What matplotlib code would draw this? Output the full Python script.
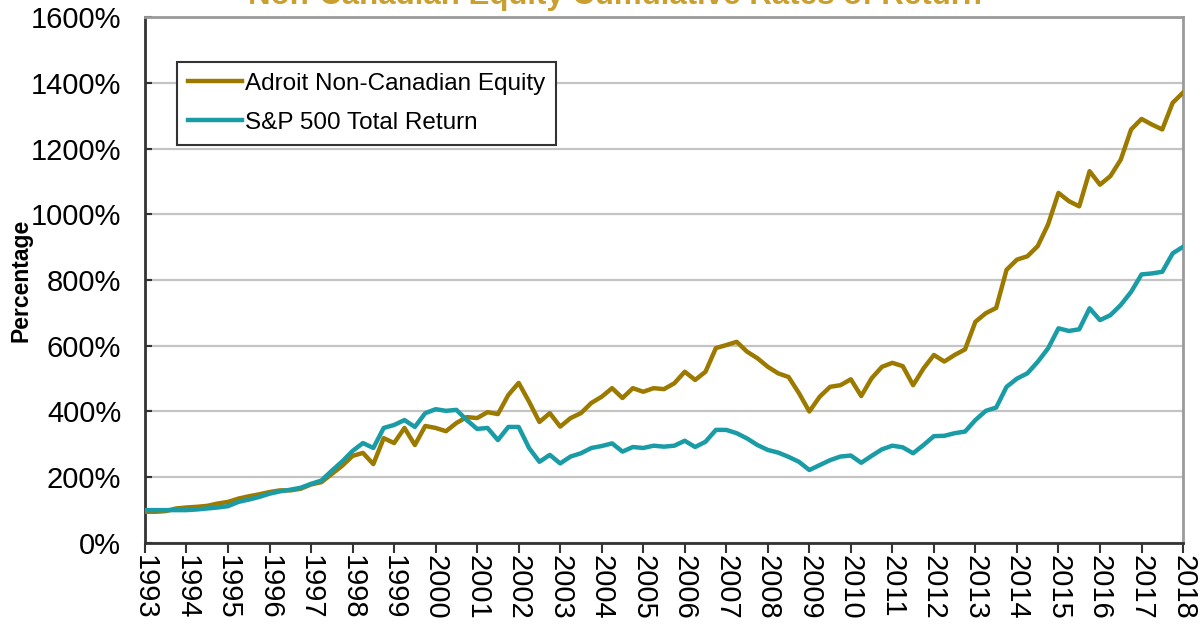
import matplotlib
matplotlib.use("Agg")
import matplotlib.pyplot as plt
import numpy as np

plt.rcParams['font.family'] = ['Liberation Sans', 'DejaVu Sans']

# quarterly cumulative returns (%), 1993 Q1 .. 2018 Q1
adroit = [95, 95, 97, 105,
          108, 110, 113, 120,
          125, 135, 142, 148,
          155, 160, 160, 165,
          178, 185, 210, 235,
          265, 274, 240, 319,
          304, 350, 298, 356,
          350, 340, 365, 383,
          380, 398, 392, 450,
          487, 430, 368, 395,
          354, 380, 395, 426,
          445, 471, 441, 471,
          460, 471, 468, 486,
          521, 496, 521, 593,
          602, 612, 582, 562,
          536, 516, 505, 456,
          400, 445, 475, 480,
          498, 447, 501, 536,
          548, 538, 480, 531,
          572, 552, 572, 589,
          673, 699, 715, 831,
          862, 872, 903, 969,
          1065, 1040, 1024, 1131,
          1090, 1116, 1166, 1258,
          1290, 1273, 1258, 1339,
          1370]
sp500 = [100, 100, 100, 100,
         100, 102, 105, 108,
         112, 125, 132, 140,
         150, 157, 162, 168,
         180, 190, 220, 248,
         280, 304, 289, 350,
         359, 374, 353, 395,
         407, 402, 405, 374,
         347, 350, 313, 353,
         353, 289, 247, 268,
         242, 263, 273, 289,
         295, 303, 278, 292,
         289, 296, 293, 296,
         311, 292, 308, 344,
         344, 334, 318, 298,
         283, 275, 262, 247,
         222, 237, 252, 263,
         266, 244, 265, 285,
         296, 291, 273, 298,
         325, 326, 334, 339,
         374, 402, 412, 475,
         500, 516, 551, 592,
         653, 645, 650, 714,
         678, 693, 724, 764,
         817, 820, 825, 881,
         901]
years = list(range(1993, 2019))
x = 1993 + 0.25 * np.arange(len(adroit))

gold = '#9C7A00'
teal = '#1A9CA6'

fig = plt.figure(figsize=(12.03, 6.35), dpi=100)
ax = fig.add_axes([0.1205, 0.1449, 0.8629, 0.8283])

ax.plot(x, adroit, color=gold, lw=3.2, label="Adroit Non-Canadian Equity", zorder=3)
ax.plot(x, sp500, color=teal, lw=3.2, label="S&P 500 Total Return", zorder=3)

ax.set_xlim(1993, 2018)
ax.set_ylim(0, 1600)
ax.set_xticks(years)
ax.set_xticklabels([str(y) for y in years], rotation=-90, fontsize=21)
ax.set_yticks(range(0, 1601, 200))
ax.set_yticklabels([f"{v}%" for v in range(0, 1601, 200)], fontsize=21)
ax.tick_params(axis='x', direction='out', length=7, width=1.5, pad=2, color='#333333')
ax.tick_params(axis='y', direction='in', length=5, width=1.5, pad=17, color='#333333')

ax.grid(axis='y', color='#c4c4c4', lw=1.6)
ax.set_axisbelow(True)
for s in ['left', 'bottom']:
    ax.spines[s].set_color('#333333')
    ax.spines[s].set_linewidth(2)
for s in ['top', 'right']:
    ax.spines[s].set_color('#9a9a9a')
    ax.spines[s].set_linewidth(2)

ax.set_ylabel("Percentage", fontsize=16.5, fontweight='bold')
ax.yaxis.set_label_coords(-0.108, 0.5)

leg = ax.legend(loc='upper left', bbox_to_anchor=(0.031, 0.915), fontsize=17.5,
                frameon=True, fancybox=False, edgecolor='#333333', framealpha=1,
                handlelength=2.2, handletextpad=0.15, labelspacing=0.7,
                borderpad=0.45, borderaxespad=0)
leg.get_frame().set_linewidth(1.5)

fig.text(0.511, 0.993, "Non-Canadian Equity Cumulative Rates of Return", ha='center',
         va='baseline', fontsize=22.5, fontweight='bold', color='#C9A030')

fig.savefig("out.png", dpi=100)
